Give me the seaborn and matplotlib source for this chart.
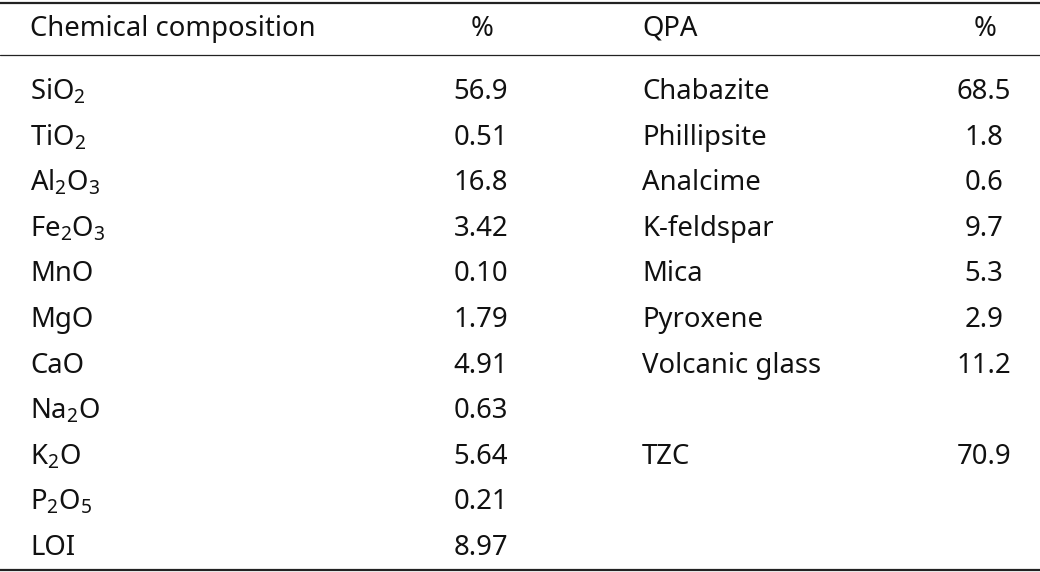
import matplotlib
matplotlib.use("Agg")
import matplotlib.pyplot as plt
import seaborn as sns

# table data
oxides = ["SiO$_2$", "TiO$_2$", "Al$_2$O$_3$", "Fe$_2$O$_3$", "MnO", "MgO", "CaO",
          "Na$_2$O", "K$_2$O", "P$_2$O$_5$", "LOI"]
oxide_pct = ["56.9", "0.51", "16.8", "3.42", "0.10", "1.79", "4.91", "0.63", "5.64", "0.21", "8.97"]
phases = ["Chabazite", "Phillipsite", "Analcime", "K-feldspar", "Mica", "Pyroxene", "Volcanic glass",
          "", "TZC"]
phase_pct = ["68.5", "1.8", "0.6", "9.7", "5.3", "2.9", "11.2", "", "70.9"]
headers = ["Chemical composition", "%", "QPA", "%"]

sns.set_theme(style="white")
plt.rcParams["font.family"] = ["Noto Sans", "DejaVu Sans"]
plt.rcParams["mathtext.fontset"] = "custom"
plt.rcParams["mathtext.rm"] = "Noto Sans"
plt.rcParams["mathtext.it"] = "Noto Sans"
plt.rcParams["mathtext.default"] = "regular"

fig = plt.figure(figsize=(10.4, 5.72), dpi=100)
ax = fig.add_axes([0, 0, 1, 1])
ax.set_xlim(0, 1040)
ax.set_ylim(572, 0)
ax.axis("off")

fs = 19.8
row0 = 92
step = 45.6
ink = "#111111"

# header
ax.text(30, 29, headers[0], fontsize=fs, va="center", ha="left", color=ink)
ax.text(482, 29, headers[1], fontsize=fs, va="center", ha="center", color=ink)
ax.text(642, 29, headers[2], fontsize=fs, va="center", ha="left", color=ink)
ax.text(985, 29, headers[3], fontsize=fs, va="center", ha="center", color=ink)

for i, (name, val) in enumerate(zip(oxides, oxide_pct)):
    y = row0 + i * step
    ax.text(30, y, name, fontsize=fs, va="center", ha="left", color=ink)
    ax.text(481, y, val, fontsize=fs, va="center", ha="center", color=ink)

for i, (name, val) in enumerate(zip(phases, phase_pct)):
    y = row0 + i * step
    ax.text(642, y, name, fontsize=fs, va="center", ha="left", color=ink)
    ax.text(984, y, val, fontsize=fs, va="center", ha="center", color=ink)

# rules
ax.axhline(2.5, color="#222222", lw=1.6)
ax.axhline(55, color="#222222", lw=0.9)
ax.axhline(569.5, color="#222222", lw=1.6)

fig.savefig("out.png", dpi=100)
